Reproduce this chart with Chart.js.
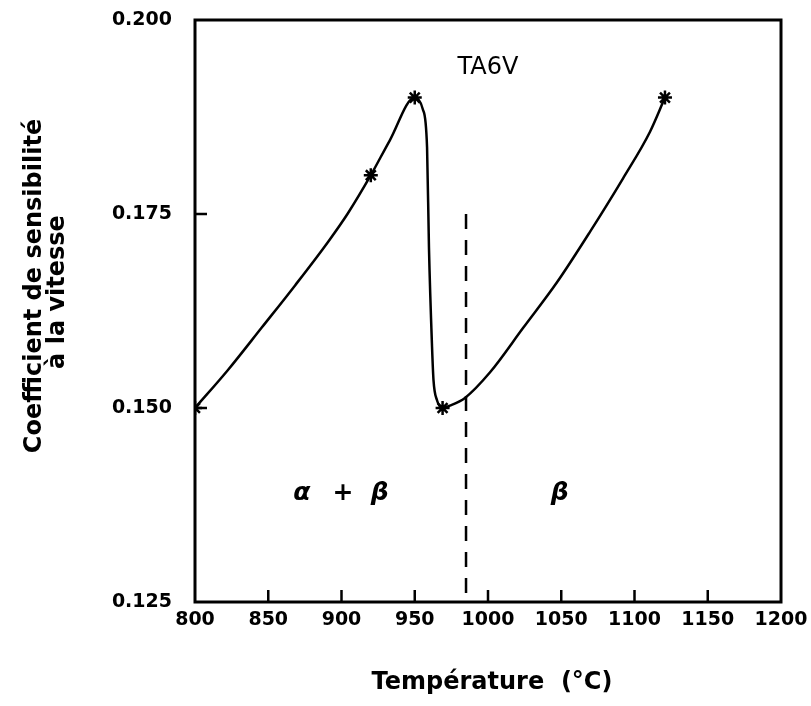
<!DOCTYPE html>
<html>
<head>
<meta charset="utf-8">
<script src="https://cdn.jsdelivr.net/npm/chart.js@4.4.1/dist/chart.umd.min.js"></script>
<style>
  html, body { margin: 0; padding: 0; background: #fff; }
  canvas { display: block; }
</style>
</head>
<body>
<canvas id="chartTA6V" width="811" height="706"></canvas>
<script>
// courbe
const tempCurve = [800, 822.5, 845.7, 868.3, 890.8, 904.4, 920, 933, 950, 955.5, 958.4, 959.7, 961.8, 962.8, 965.2, 969, 974, 984.3, 1001.4, 1023.9, 1047.1, 1069.6, 1092.2, 1110.6, 1120.8];
const coefCurve = [0.150, 0.1549, 0.1604, 0.1658, 0.1714, 0.1751, 0.180, 0.1845, 0.190, 0.1885, 0.1836, 0.1707, 0.1579, 0.1536, 0.151, 0.150, 0.1503, 0.1513, 0.1546, 0.1603, 0.1662, 0.1727, 0.1796, 0.1856, 0.190];

// points mesures (etoiles)
const tempPoints = [800, 920, 950, 969, 1120.8];
const coefPoints = [0.150, 0.180, 0.190, 0.150, 0.190];

// transus beta
const transusTemp = [985, 985];
const transusCoef = [0.175, 0.125];

const xTicks = [800, 850, 900, 950, 1000, 1050, 1100, 1150, 1200];
const yTicks = [0.125, 0.150, 0.175, 0.200];

const labels = [
    { text: 'TA6V', x: 1000, y: 0.1939, font: '24px "DejaVu Sans"' },
    { text: 'α', x: 873, y: 0.139, font: 'bold italic 25px "DejaVu Sans"' },
    { text: '+', x: 901, y: 0.139, font: 'bold 25px "DejaVu Sans"' },
    { text: 'β', x: 926, y: 0.139, font: 'bold italic 25px "DejaVu Sans"' },
    { text: 'β', x: 1049, y: 0.139, font: 'bold italic 25px "DejaVu Sans"' }
];

const toXY = (xs, ys) => xs.map((v, i) => ({ x: v, y: ys[i] }));

const noPadding = s => {
    s.paddingTop = 0;
    s.paddingBottom = 0;
    s.paddingLeft = 0;
    s.paddingRight = 0;
};

const decorPlugin = {
    id: 'decor',
    afterDatasetsDraw(chart) {
        const { ctx, chartArea: a, scales: { x, y } } = chart;
        ctx.save();
        ctx.strokeStyle = '#000';
        ctx.fillStyle = '#000';

        // cadre
        ctx.lineWidth = 3;
        ctx.strokeRect(a.left, a.top, a.right - a.left, a.bottom - a.top);

        // graduations vers l'interieur
        ctx.lineWidth = 2.5;
        ctx.beginPath();
        xTicks.slice(1, -1).forEach(v => {
            const px = x.getPixelForValue(v);
            ctx.moveTo(px, a.bottom);
            ctx.lineTo(px, a.bottom - 12);
        });
        yTicks.slice(1, -1).forEach(v => {
            const py = y.getPixelForValue(v);
            ctx.moveTo(a.left, py);
            ctx.lineTo(a.left + 12, py);
        });
        ctx.stroke();

        // textes dans le graphique
        ctx.textAlign = 'center';
        ctx.textBaseline = 'middle';
        labels.forEach(l => {
            ctx.font = l.font;
            ctx.fillText(l.text, x.getPixelForValue(l.x), y.getPixelForValue(l.y));
        });

        // titres des axes
        ctx.font = 'bold 24px "DejaVu Sans"';
        ctx.fillText('Température  (°C)', (a.left + a.right) / 2 + 4, 683);

        ctx.translate(0, 286);
        ctx.rotate(-Math.PI / 2);
        ctx.fillText('Coefficient de sensibilité', 0, 35);
        ctx.fillText('à la vitesse', -6, 58);
        ctx.restore();
    }
};

const ctx = document.getElementById('chartTA6V').getContext('2d');
new Chart(ctx, {
    type: 'scatter',
    data: {
        datasets: [
            {
                data: toXY(tempCurve, coefCurve),
                showLine: true,
                borderColor: '#000',
                borderWidth: 2.5,
                pointRadius: 0,
                cubicInterpolationMode: 'monotone'
            },
            {
                data: toXY(tempPoints, coefPoints),
                showLine: false,
                pointStyle: 'star',
                pointRadius: 7,
                borderColor: '#000',
                backgroundColor: '#000',
                borderWidth: 2.5
            },
            {
                data: toXY(transusTemp, transusCoef),
                showLine: true,
                borderColor: '#000',
                borderWidth: 2.5,
                borderDash: [15, 11],
                pointRadius: 0
            }
        ]
    },
    options: {
        responsive: false,
        animation: false,
        devicePixelRatio: 1,
        layout: { padding: { top: 20, right: 30, left: 0, bottom: 0 } },
        plugins: {
            legend: { display: false },
            tooltip: { enabled: false }
        },
        scales: {
            x: {
                type: 'linear',
                min: 800,
                max: 1200,
                afterFit: s => { s.height = 104; noPadding(s); },
                afterBuildTicks: s => { s.ticks = xTicks.map(v => ({ value: v })); },
                grid: { display: false, drawTicks: false },
                border: { display: false },
                ticks: {
                    padding: 7,
                    color: '#000',
                    font: { family: 'DejaVu Sans', size: 19, weight: 'bold' },
                    callback: v => String(v)
                }
            },
            y: {
                type: 'linear',
                min: 0.125,
                max: 0.2,
                afterFit: s => { s.width = 195; noPadding(s); },
                afterBuildTicks: s => { s.ticks = yTicks.map(v => ({ value: v })); },
                grid: { display: false, drawTicks: false },
                border: { display: false },
                ticks: {
                    padding: 23,
                    color: '#000',
                    font: { family: 'DejaVu Sans', size: 19, weight: 'bold' },
                    callback: v => v.toFixed(3)
                }
            }
        }
    },
    plugins: [decorPlugin]
});
</script>
</body>
</html>
